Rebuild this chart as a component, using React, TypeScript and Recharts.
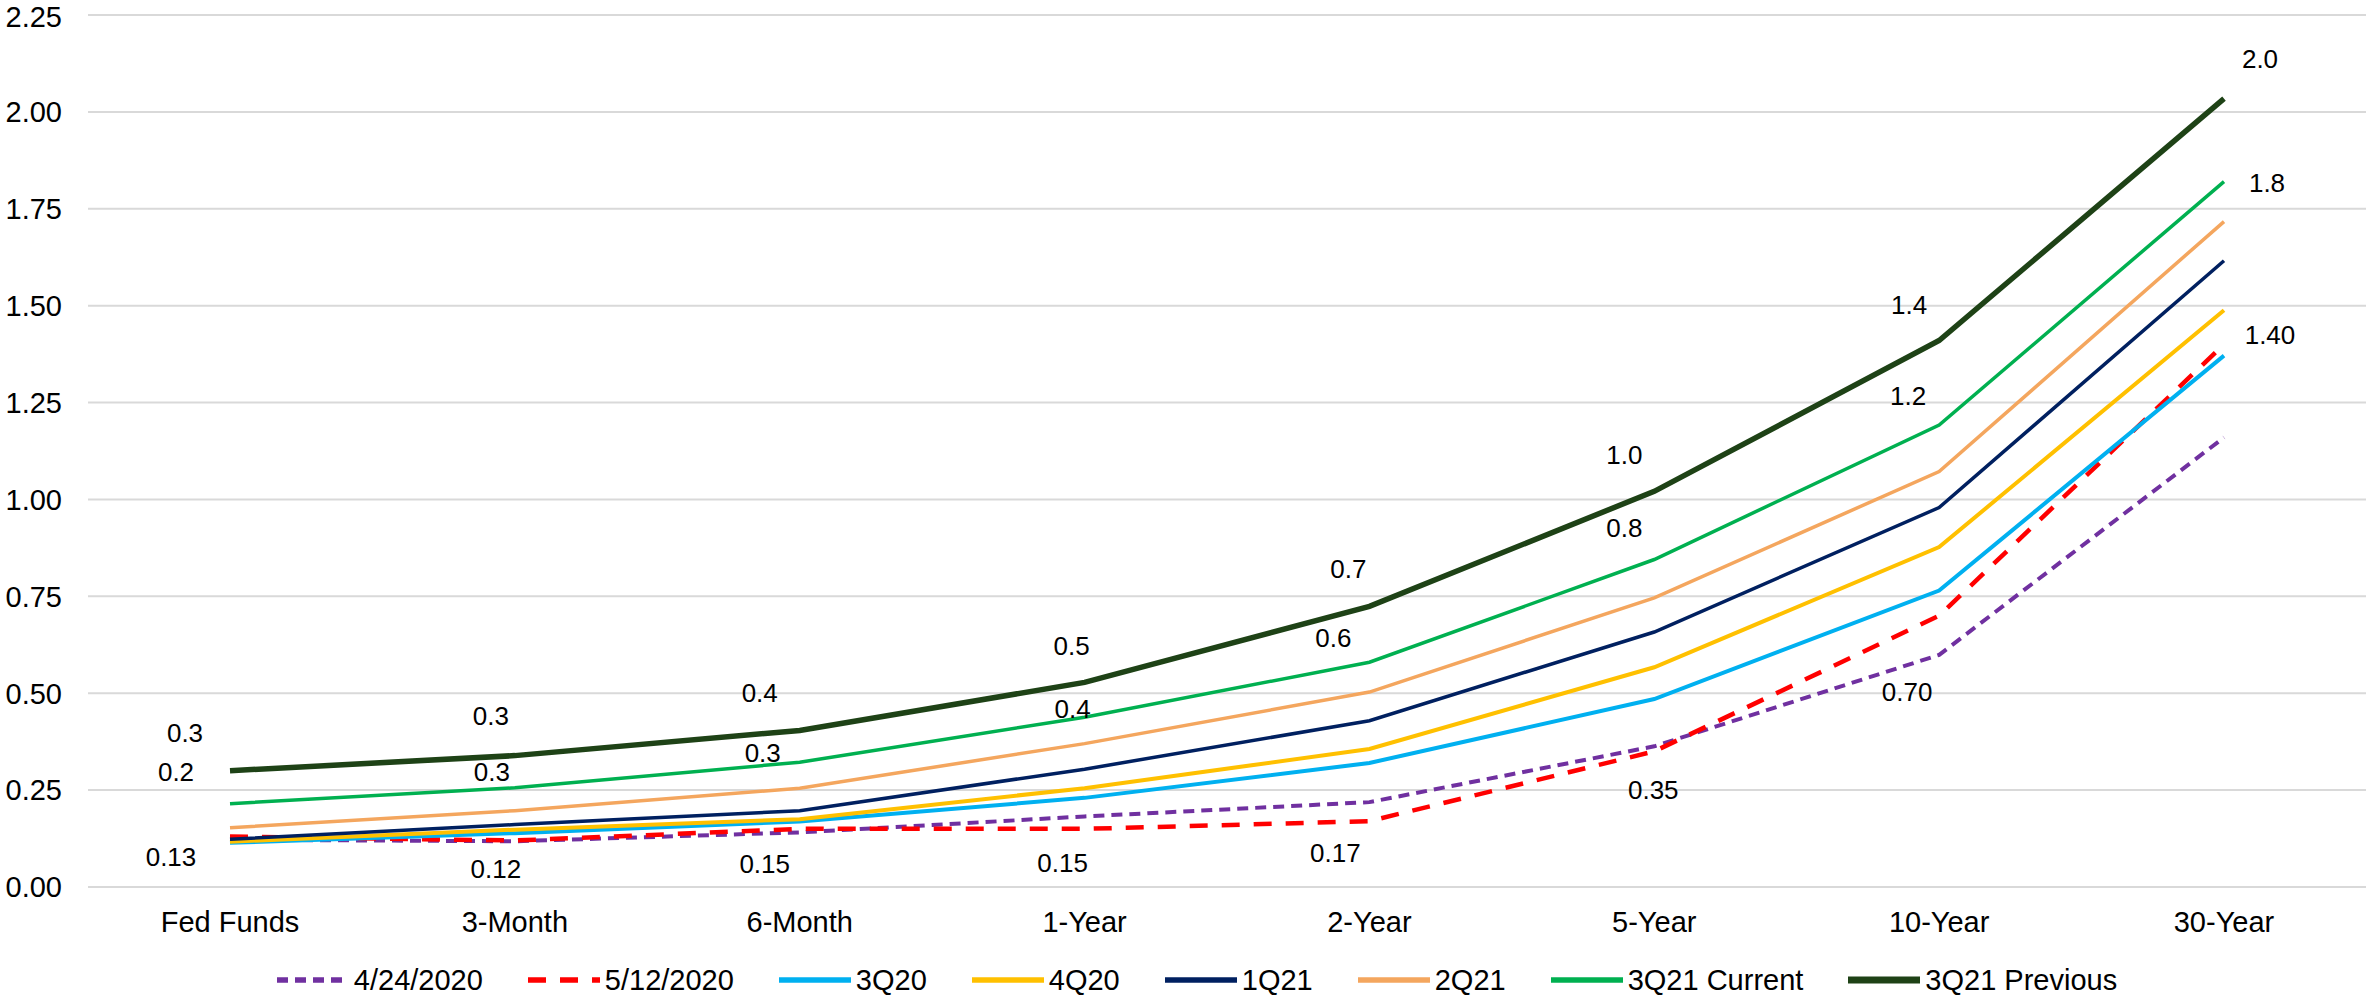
import { LineChart, Line, XAxis, YAxis, CartesianGrid, Legend, LabelList } from 'recharts'

const FONT = '"Liberation Sans", Arial, sans-serif'

// ─── Data ─────────────────────────────────────────────────────────────────────

const TENORS = ['Fed Funds', '3-Month', '6-Month', '1-Year', '2-Year', '5-Year', '10-Year', '30-Year']

const APR_24_2020 = [0.122, 0.118, 0.141, 0.182, 0.219, 0.363, 0.599, 1.16]
const MAY_12_2020 = [0.13, 0.12, 0.15, 0.15, 0.17, 0.35, 0.7, 1.4]
const Q3_20 = [0.114, 0.139, 0.169, 0.23, 0.32, 0.485, 0.765, 1.371]
const Q4_20 = [0.117, 0.148, 0.175, 0.255, 0.356, 0.567, 0.877, 1.488]
const Q1_21 = [0.123, 0.161, 0.197, 0.304, 0.429, 0.658, 0.979, 1.616]
const Q2_21 = [0.153, 0.197, 0.255, 0.37, 0.503, 0.746, 1.072, 1.717]
const Q3_21_CURRENT = [0.215, 0.256, 0.322, 0.438, 0.58, 0.845, 1.192, 1.82]
const Q3_21_PREVIOUS = [0.3, 0.339, 0.404, 0.528, 0.724, 1.021, 1.41, 2.034]

const Y_TICKS = [0, 0.25, 0.5, 0.75, 1, 1.25, 1.5, 1.75, 2, 2.25]

// ─── Series styling ───────────────────────────────────────────────────────────

interface SeriesDef {
  key: string
  name: string
  values: number[]
  color: string
  width: number
  dash?: string
}

const SERIES: SeriesDef[] = [
  { key: 'apr24', name: '4/24/2020', values: APR_24_2020, color: '#7030A0', width: 4, dash: '11 7' },
  { key: 'may12', name: '5/12/2020', values: MAY_12_2020, color: '#FF0000', width: 4.5, dash: '18 14' },
  { key: 'q320', name: '3Q20', values: Q3_20, color: '#00B0F0', width: 4 },
  { key: 'q420', name: '4Q20', values: Q4_20, color: '#FFC000', width: 4 },
  { key: 'q121', name: '1Q21', values: Q1_21, color: '#002060', width: 3.5 },
  { key: 'q221', name: '2Q21', values: Q2_21, color: '#F4A65E', width: 3.5 },
  { key: 'q321c', name: '3Q21 Current', values: Q3_21_CURRENT, color: '#00B050', width: 3.5 },
  { key: 'q321p', name: '3Q21 Previous', values: Q3_21_PREVIOUS, color: '#1E4216', width: 5.5 },
]

const rows = TENORS.map((tenor, i) => {
  const row: Record<string, string | number> = { tenor }
  for (const s of SERIES) row[s.key] = s.values[i]
  return row
})

// Hand-placed label offsets (dx, dy from the point to the label centre)
const PREVIOUS_NUDGE: [number, number][] = [
  [-45, -38], [-24, -40], [-40, -37], [-13, -36], [-21, -37], [-30, -36], [-30, -36], [36, -40],
]
const CURRENT_NUDGE: [number, number][] = [
  [-54, -32], [-23, -16], [-37, -9], [-12, -8], [-36, -24], [-30, -32], [-31, -29], [43, 1],
]
const MAY12_NUDGE: [number, number][] = [
  [-59, 20], [-19, 29], [-35, 35], [-22, 34], [-34, 32], [-1, 39], [-32, 76], [46, -9],
]

function nudgedLabel(nudges: [number, number][], digits: number) {
  return (props: any) => {
    const { x, y, value, index } = props
    const [dx, dy] = nudges[index] ?? [0, 0]
    return (
      <text x={x + dx} y={y + dy + 9} textAnchor="middle" fontSize={26} fill="#000" fontFamily={FONT}>
        {Number(value).toFixed(digits)}
      </text>
    )
  }
}

function CurveLegend() {
  return (
    <div style={{
      height: 30, display: 'flex', justifyContent: 'center', alignItems: 'center',
      paddingLeft: 73, fontFamily: FONT, fontSize: 29, color: '#000', whiteSpace: 'nowrap',
    }}>
      {SERIES.map((s) => (
        <div key={s.key} style={{ display: 'flex', alignItems: 'center', marginRight: 45 }}>
          <svg width={72} height={14} style={{ marginRight: 5 }}>
            <line x1={0} y1={7} x2={72} y2={7} stroke={s.color}
              strokeWidth={s.key === 'q321p' ? 7 : 5.5} strokeDasharray={s.dash} />
          </svg>
          <span>{s.name}</span>
        </div>
      ))}
    </div>
  )
}

export default function App() {
  return (
    <div style={{ position: 'absolute', left: 0, top: 0, background: '#fff' }}>
      <LineChart width={2366} height={995} data={rows}
        margin={{ top: 15, right: 0, bottom: 0, left: 0 }} style={{ fontFamily: FONT }}>
        <CartesianGrid vertical={false} stroke="#D9D9D9" strokeWidth={2} />
        <XAxis dataKey="tenor" interval={0} height={78} tickLine={false} axisLine={false}
          tickMargin={18} padding={{ left: 142, right: 142 }}
          tick={{ fontSize: 29, fill: '#000', fontFamily: FONT }} />
        <YAxis domain={[0, 2.25]} ticks={Y_TICKS} width={88} tickLine={false} axisLine={false}
          tickMargin={20} tickFormatter={(v: number) => v.toFixed(2)}
          tick={{ fontSize: 29, fill: '#000', fontFamily: FONT }} />
        <Legend verticalAlign="bottom" content={() => <CurveLegend />} />
        {SERIES.map((s) => (
          <Line key={s.key} dataKey={s.key} name={s.name} type="linear"
            stroke={s.color} strokeWidth={s.width} strokeDasharray={s.dash}
            dot={false} activeDot={false} isAnimationActive={false}>
            {s.key === 'may12' && <LabelList dataKey={s.key} content={nudgedLabel(MAY12_NUDGE, 2)} />}
            {s.key === 'q321c' && <LabelList dataKey={s.key} content={nudgedLabel(CURRENT_NUDGE, 1)} />}
            {s.key === 'q321p' && <LabelList dataKey={s.key} content={nudgedLabel(PREVIOUS_NUDGE, 1)} />}
          </Line>
        ))}
      </LineChart>
    </div>
  )
}
